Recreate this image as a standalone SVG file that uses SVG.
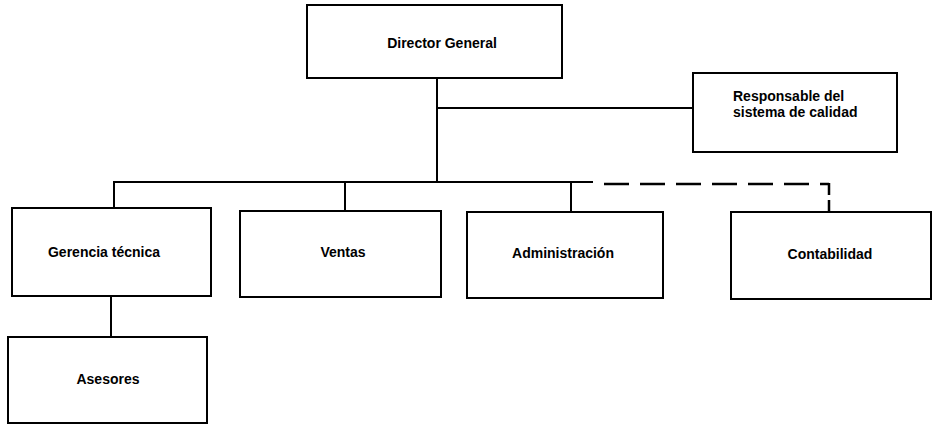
<svg xmlns="http://www.w3.org/2000/svg" width="932" height="425" viewBox="0 0 932 425">
  <style>
    .box { fill: #ffffff; stroke: #000000; stroke-width: 2; }
    .lbl { font-family: "Liberation Sans", Arial, sans-serif; font-size: 14px; font-weight: bold; fill: #000000; }
    .mid { text-anchor: middle; }
    .line { fill: none; stroke: #000000; stroke-width: 2; }
    .dash { fill: none; stroke: #000000; stroke-width: 2.5; stroke-dasharray: 25 11; stroke-dashoffset: 25; }
    .dash-v { fill: none; stroke: #000000; stroke-width: 2.5; stroke-dasharray: 12 5; }
  </style>
  <rect width="932" height="425" fill="#ffffff"/>

  <!-- connectors -->
  <g id="connectors">
    <line class="line" x1="437" y1="78" x2="437" y2="182"/>
    <line class="line" x1="437" y1="108" x2="693" y2="108"/>
    <line class="line" x1="113" y1="182" x2="593" y2="182"/>
    <line class="line" x1="114" y1="182" x2="114" y2="208"/>
    <line class="line" x1="345" y1="182" x2="345" y2="211"/>
    <line class="line" x1="571" y1="182" x2="571" y2="212"/>
    <line class="dash" x1="593" y1="184" x2="829" y2="184"/>
    <line class="dash-v" x1="829" y1="183" x2="829" y2="212"/>
    <line class="line" x1="111" y1="296" x2="111" y2="337"/>
  </g>

  <g id="director">
    <rect class="box" x="307" y="5" width="255" height="73"/>
    <text class="lbl mid" x="442" y="48">Director General</text>
  </g>

  <g id="calidad">
    <rect class="box" x="693" y="73" width="204" height="79"/>
    <text class="lbl" x="733" y="101">Responsable del</text>
    <text class="lbl" x="733" y="117">sistema de calidad</text>
  </g>

  <g id="gerencia">
    <rect class="box" x="12" y="208" width="199" height="88"/>
    <text class="lbl mid" x="104" y="257">Gerencia técnica</text>
  </g>

  <g id="ventas">
    <rect class="box" x="240" y="211" width="201" height="86"/>
    <text class="lbl mid" x="343" y="257">Ventas</text>
  </g>

  <g id="administracion">
    <rect class="box" x="467" y="212" width="196" height="86"/>
    <text class="lbl mid" x="563" y="258">Administración</text>
  </g>

  <g id="contabilidad">
    <rect class="box" x="731" y="212" width="200" height="87"/>
    <text class="lbl mid" x="830" y="259">Contabilidad</text>
  </g>

  <g id="asesores">
    <rect class="box" x="8" y="337" width="199" height="86"/>
    <text class="lbl mid" x="108" y="384">Asesores</text>
  </g>
</svg>
